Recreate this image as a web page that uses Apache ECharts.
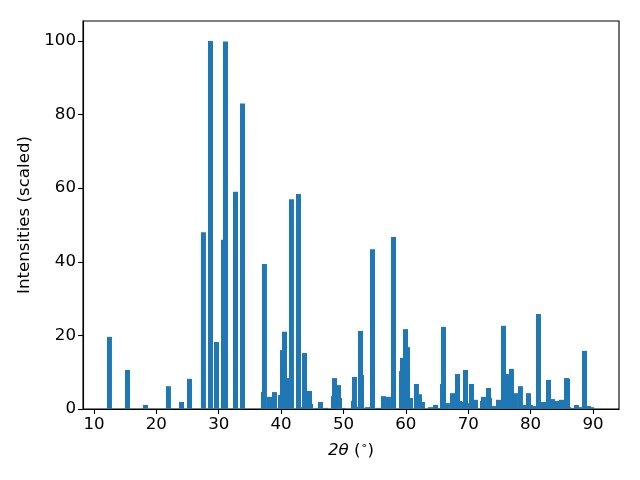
<!DOCTYPE html>
<html><head><meta charset="utf-8">
<script src="https://cdn.jsdelivr.net/npm/echarts@6/dist/echarts.min.js"></script>
<style>html,body{margin:0;padding:0;background:#fff}#c{width:640px;height:480px}</style>
</head><body><div id="c"></div>
<script>
const twoTheta = [12.48,15.37,18.26,21.94,24.03,25.31,27.55,28.68,29.64,30.76,31.08,32.69,33.81,
37.17,37.33,38.14,38.94,39.90,40.22,40.54,41.34,41.66,42.79,43.2,43.75,44.55,44.71,45.83,46.31,47.1,
48.4,48.56,49.2,49.36,50.0,51.6,51.76,52.0,52.73,52.89,53.3,53.85,54.65,55.6,56.41,57.21,58.02,
59.3,59.46,59.94,60.26,60.58,60.74,61.7,62.19,62.67,63.95,64.75,65.07,65.87,66.03,66.67,67.48,
68.28,68.6,68.76,69.56,69.72,70.52,71.16,72.28,72.44,73.25,73.41,74.21,74.85,75.65,76.13,76.93,
77.57,78.37,78.86,79.66,80.0,80.46,81.26,81.58,81.8,82.07,82.87,83.5,84.15,84.95,85.75,85.91,86.07,
86.55,87.35,87.84,88.64,89.28,89.76];
const intensity = [19.6,10.6,1.1,6.2,1.9,8.2,48.0,100,18.2,46.0,99.8,59.0,83.0,
4.6,39.4,3.3,4.6,3.8,16.0,21.0,8.4,57.0,58.4,0.5,15.2,4.9,1.4,0.3,1.9,0.3,
3.5,8.4,6.5,3.0,0.3,2.2,8.7,0.6,21.2,9.2,0.3,0.5,43.4,0.3,3.5,3.3,46.7,
10.3,13.9,21.7,16.8,1.6,3.0,6.8,4.0,1.9,0.5,1.1,0.3,6.8,22.3,1.6,4.3,
9.5,2.2,1.9,10.6,1.6,6.8,2.5,2.2,3.3,5.7,3.0,0.8,2.5,22.6,9.5,10.9,
4.3,6.2,1.1,4.3,1.1,0.8,25.8,1.6,0.3,1.9,7.9,2.7,2.2,2.5,8.4,8.2,0.5,
0.3,1.1,0.5,15.8,0.8,0.5];
const xTicks = [10,20,30,40,50,60,70,80,90];
const yTicks = [0,20,40,60,80,100];

const font = 'DejaVu Sans';
const fs = 16.67;
const chart = echarts.init(document.getElementById('c'), null, {renderer:'canvas'});
chart.setOption({
  animation:false,
  grid:{left:83,right:21,top:21,bottom:71,show:true,borderColor:'#000',borderWidth:1.1,backgroundColor:'transparent'},
  xAxis:{type:'value',min:8.24,max:94.17,
    name:'{i|2θ} ({s|∘})',nameLocation:'middle',nameGap:32,
    nameTextStyle:{fontFamily:font,fontSize:fs,color:'#000',rich:{i:{fontFamily:font,fontSize:fs,fontStyle:'italic',color:'#000'},s:{fontFamily:font,fontSize:11,color:'#000',verticalAlign:'top',padding:[0,0,8,0]}}},
    splitLine:{show:false},
    axisLine:{show:true,onZero:false,lineStyle:{color:'#000',width:1.1}},
    axisTick:{show:true,length:5,lineStyle:{color:'#000',width:1.1},customValues:xTicks},
    axisLabel:{fontFamily:font,fontSize:fs,color:'#000',margin:7,customValues:xTicks}},
  yAxis:{type:'value',min:0,max:105.4,
    name:'Intensities (scaled)',nameLocation:'middle',nameGap:50,
    nameTextStyle:{fontFamily:font,fontSize:fs,color:'#000'},
    splitLine:{show:false},
    axisLine:{show:true,lineStyle:{color:'#000',width:1.1}},
    axisTick:{show:true,length:5,lineStyle:{color:'#000',width:1.1},customValues:yTicks},
    axisLabel:{fontFamily:font,fontSize:fs,color:'#000',margin:7,customValues:yTicks}},
  series:[{type:'bar',barWidth:5,itemStyle:{color:'#1f77b4'},
    data:twoTheta.map((x,i)=>[x,intensity[i]])}]
});
</script></body></html>
